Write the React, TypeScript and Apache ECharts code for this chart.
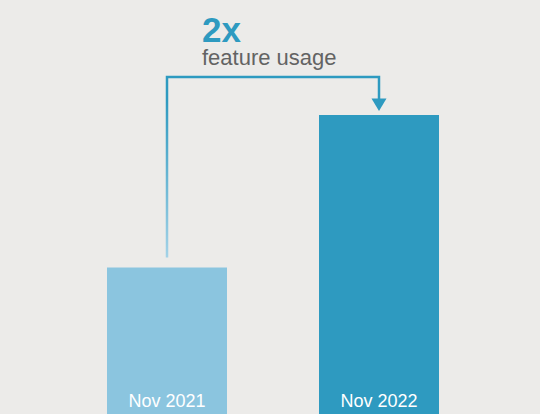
import React, { useEffect, useRef } from "react";
import * as echarts from "echarts";

const categories = ["Nov 2021", "Nov 2022"];
const usageValues = [49, 100];
const barColors = ["#8BC5DF", "#2E9AC0"];
const headline = "2x";
const subline = "feature usage";

export default function App() {
  const ref = useRef<HTMLDivElement>(null);
  useEffect(() => {
    const chart = echarts.init(ref.current!, null, { renderer: "svg" });
    chart.setOption({
      animation: false,
      backgroundColor: "#ECEBE9",
      grid: { left: 61, right: 55, top: 0, bottom: 0 },
      xAxis: {
        type: "category",
        data: categories,
        show: false,
      },
      yAxis: { type: "value", min: 0, max: 138.5, show: false },
      series: [
        {
          type: "bar",
          barWidth: 120,
          data: usageValues.map((v, i) => ({
            value: v,
            itemStyle: { color: barColors[i] },
          })),
          label: {
            show: true,
            position: "insideBottom",
            distance: 4,
            formatter: (p: any) => categories[p.dataIndex],
            color: "#ffffff",
            fontSize: 18,
            fontFamily: "Liberation Sans, Arial, sans-serif",
          },
        },
      ],
    });
    const p0 = chart.convertToPixel({ seriesIndex: 0 }, [0, usageValues[0]]) as number[];
    const p1 = chart.convertToPixel({ seriesIndex: 0 }, [1, usageValues[1]]) as number[];
    const lineY = 77;
    const startY = p0[1] - 10;
    const tipY = p1[1] - 4;
    const baseY = p1[1] - 16.5;
    const grad = new echarts.graphic.LinearGradient(
      0, startY, 0, 100,
      [
        { offset: 0, color: "#A3D2E7" },
        { offset: 1, color: "#2E9AC0" },
      ],
      true
    );
    chart.setOption({
      graphic: [
        {
          type: "polyline",
          shape: {
            points: [
              [p0[0], startY],
              [p0[0], lineY],
              [p1[0], lineY],
              [p1[0], baseY + 1],
            ],
          },
          style: { stroke: grad, lineWidth: 2.5, fill: null, lineJoin: "miter" },
        },
        {
          type: "polygon",
          shape: {
            points: [
              [p1[0] - 7.5, baseY],
              [p1[0] + 7.5, baseY],
              [p1[0], tipY],
            ],
          },
          style: { fill: "#2E9AC0" },
        },
        {
          type: "text",
          x: 202,
          y: 13,
          style: {
            text: headline,
            fontSize: 35,
            lineHeight: 33,
            fontWeight: "bold",
            fontFamily: "Liberation Sans, Arial, sans-serif",
            fill: "#2E9AC0",
            verticalAlign: "top",
          },
        },
        {
          type: "text",
          x: 202,
          y: 47,
          style: {
            text: subline,
            fontSize: 22,
            lineHeight: 20,
            fontFamily: "Liberation Sans, Arial, sans-serif",
            fill: "#636363",
            verticalAlign: "top",
          },
        },
      ],
    });
    return () => chart.dispose();
  }, []);
  return (
    <div
      ref={ref}
      style={{ position: "fixed", left: 0, top: 0, width: 540, height: 414 }}
    />
  );
}
